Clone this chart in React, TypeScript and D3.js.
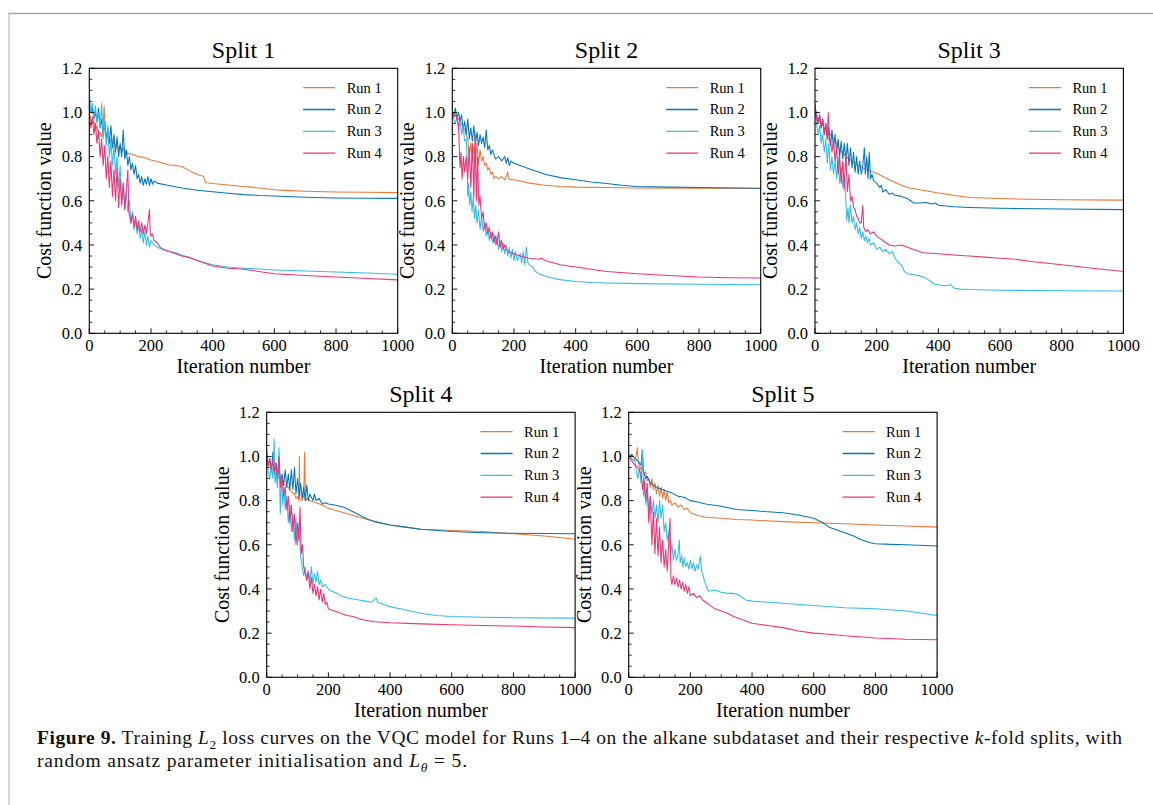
import React from 'react';
import * as d3 from 'd3';

type Pt = [number, number];

// ---------- data (iteration, cost) ----------
const split1Run1: Pt[] = [[0,1.0],[5,0.97],[10,0.95],[15,0.96],[20,0.92],[25,0.94],[30,0.9],[35,0.91],[40,0.89],[45,0.93],[48,1.03],[52,0.9],[55,0.88],[60,0.89],[65,0.86],[70,0.88],[75,0.85],[80,0.87],[85,0.84],[90,0.86],[95,0.83],[100,0.85],[105,0.82],[110,0.84],[115,0.81],[120,0.83],[125,0.81],[130,0.815],[140,0.81],[150,0.805],[160,0.8],[170,0.798],[180,0.795],[200,0.785],[220,0.778],[240,0.77],[260,0.762],[280,0.76],[300,0.755],[320,0.74],[340,0.725],[360,0.715],[370,0.712],[375,0.69],[380,0.682],[400,0.678],[450,0.672],[500,0.665],[520,0.663],[550,0.658],[600,0.65],[650,0.646],[700,0.643],[800,0.64],[900,0.639],[1000,0.637]];
const split1Run2: Pt[] = [[0,1.05],[5,1.0],[10,1.02],[15,0.97],[20,1.0],[25,0.96],[30,1.02],[35,0.93],[40,0.97],[45,0.9],[50,0.96],[55,0.88],[60,0.93],[65,0.86],[70,0.94],[75,0.84],[80,0.9],[85,0.82],[90,0.89],[95,0.8],[100,0.86],[105,0.8],[110,0.92],[115,0.79],[120,0.83],[125,0.76],[130,0.8],[135,0.74],[140,0.77],[145,0.72],[150,0.76],[155,0.7],[160,0.72],[165,0.68],[170,0.71],[175,0.67],[180,0.7],[185,0.675],[190,0.71],[195,0.67],[200,0.7],[205,0.675],[210,0.69],[220,0.68],[250,0.672],[300,0.658],[350,0.648],[400,0.641],[450,0.634],[500,0.628],[550,0.624],[600,0.622],[700,0.616],[800,0.613],[900,0.612],[1000,0.611]];
const split1Run3: Pt[] = [[0,1.09],[5,1.0],[10,1.04],[15,0.97],[20,1.03],[25,0.95],[30,1.0],[35,0.93],[40,1.04],[45,0.88],[50,0.96],[55,0.85],[60,0.94],[65,0.8],[70,0.87],[75,0.76],[80,0.85],[85,0.72],[90,0.8],[95,0.66],[100,0.76],[105,0.6],[110,0.68],[115,0.56],[120,0.64],[125,0.55],[130,0.6],[135,0.5],[140,0.55],[145,0.47],[150,0.52],[155,0.45],[160,0.49],[165,0.43],[170,0.47],[175,0.41],[180,0.46],[185,0.4],[190,0.44],[195,0.39],[200,0.42],[210,0.4],[220,0.39],[240,0.38],[260,0.37],[280,0.365],[300,0.355],[350,0.33],[400,0.31],[450,0.3],[500,0.295],[600,0.287],[700,0.282],[800,0.278],[900,0.273],[1000,0.267]];
const split1Run4: Pt[] = [[0,1.0],[5,0.93],[10,0.98],[15,0.9],[20,0.95],[25,0.86],[30,0.92],[35,0.8],[40,0.88],[45,0.76],[50,0.85],[55,0.7],[60,0.8],[65,0.66],[70,0.78],[75,0.62],[80,0.74],[85,0.6],[90,0.75],[95,0.57],[100,0.7],[105,0.58],[110,0.68],[115,0.56],[120,0.65],[125,0.74],[128,0.55],[135,0.5],[140,0.54],[145,0.48],[150,0.53],[155,0.47],[160,0.51],[165,0.46],[170,0.5],[175,0.45],[180,0.49],[185,0.45],[190,0.5],[195,0.56],[198,0.44],[205,0.45],[210,0.42],[220,0.41],[230,0.39],[240,0.38],[260,0.37],[280,0.36],[300,0.35],[320,0.345],[350,0.33],[400,0.305],[450,0.295],[500,0.29],[550,0.28],[600,0.27],[700,0.262],[800,0.255],[900,0.248],[1000,0.242]];

const split2Run1: Pt[] = [[0,1.0],[10,0.99],[20,0.97],[30,0.95],[40,0.92],[50,0.88],[55,0.8],[60,0.86],[65,0.78],[70,0.85],[75,0.77],[80,0.86],[85,0.76],[90,0.83],[95,0.78],[100,0.8],[105,0.76],[110,0.77],[115,0.74],[120,0.75],[125,0.72],[130,0.73],[135,0.7],[140,0.71],[150,0.7],[160,0.71],[170,0.695],[180,0.73],[182,0.7],[190,0.695],[200,0.695],[220,0.69],[250,0.68],[300,0.67],[350,0.665],[400,0.662],[500,0.66],[600,0.658],[800,0.657],[1000,0.656]];
const split2Run2: Pt[] = [[0,1.0],[5,0.99],[10,1.02],[15,0.97],[20,1.0],[25,0.96],[30,0.99],[35,0.92],[40,0.96],[45,0.9],[50,0.97],[55,0.88],[60,0.93],[65,0.87],[70,0.94],[75,0.86],[80,0.91],[85,0.85],[90,0.9],[95,0.86],[100,0.89],[105,0.84],[110,0.92],[115,0.83],[120,0.85],[125,0.81],[130,0.83],[140,0.79],[150,0.8],[160,0.78],[170,0.8],[175,0.77],[180,0.795],[185,0.76],[190,0.78],[200,0.77],[210,0.765],[220,0.76],[240,0.75],[260,0.74],[280,0.73],[300,0.72],[350,0.705],[400,0.695],[450,0.685],[500,0.678],[550,0.67],[600,0.665],[700,0.662],[800,0.66],[1000,0.657]];
const split2Run3: Pt[] = [[0,1.0],[5,0.97],[10,0.95],[15,0.98],[20,0.92],[25,0.96],[30,0.9],[35,0.94],[40,0.87],[45,0.88],[48,0.8],[50,0.62],[53,0.68],[56,0.58],[60,0.64],[64,0.55],[68,0.62],[72,0.52],[76,0.58],[80,0.5],[85,0.56],[90,0.47],[95,0.53],[100,0.46],[105,0.5],[110,0.44],[115,0.48],[120,0.42],[125,0.46],[130,0.41],[135,0.45],[140,0.4],[145,0.44],[150,0.38],[155,0.42],[160,0.37],[165,0.41],[170,0.36],[175,0.4],[180,0.35],[185,0.39],[190,0.34],[195,0.38],[200,0.33],[205,0.37],[210,0.33],[220,0.36],[225,0.32],[230,0.37],[235,0.31],[240,0.39],[245,0.32],[250,0.31],[260,0.3],[270,0.28],[280,0.27],[290,0.265],[300,0.26],[320,0.252],[350,0.243],[400,0.235],[450,0.23],[500,0.228],[600,0.225],[800,0.222],[1000,0.22]];
const split2Run4: Pt[] = [[0,1.0],[5,0.98],[10,0.99],[15,0.97],[20,0.95],[25,0.75],[28,0.82],[32,0.7],[36,0.8],[40,0.73],[45,0.8],[50,0.7],[55,0.84],[60,0.66],[65,0.86],[70,0.62],[74,0.9],[78,0.6],[82,0.8],[86,0.58],[90,0.62],[95,0.52],[100,0.55],[105,0.47],[110,0.5],[115,0.45],[120,0.48],[125,0.43],[130,0.46],[135,0.41],[140,0.44],[145,0.4],[150,0.46],[155,0.39],[160,0.42],[165,0.38],[170,0.4],[180,0.37],[190,0.365],[200,0.36],[220,0.35],[250,0.34],[280,0.335],[290,0.34],[300,0.33],[350,0.31],[400,0.3],[450,0.29],[500,0.28],[600,0.27],[700,0.262],[800,0.255],[900,0.252],[1000,0.25]];

const split3Run1: Pt[] = [[0,1.02],[10,0.97],[20,0.95],[30,0.93],[40,0.92],[50,0.9],[60,0.88],[70,0.86],[80,0.83],[90,0.82],[100,0.8],[120,0.78],[140,0.76],[160,0.745],[180,0.735],[200,0.725],[220,0.71],[250,0.69],[280,0.67],[300,0.66],[350,0.648],[400,0.635],[450,0.625],[500,0.615],[600,0.61],[700,0.607],[800,0.605],[1000,0.603]];
const split3Run2: Pt[] = [[0,1.03],[5,0.98],[10,0.95],[15,0.99],[20,0.93],[25,0.97],[30,0.9],[35,0.95],[40,0.88],[45,0.93],[50,0.85],[55,0.92],[60,0.84],[65,0.9],[70,0.82],[75,0.88],[80,0.8],[85,0.87],[90,0.79],[95,0.86],[100,0.78],[105,0.86],[110,0.76],[115,0.84],[120,0.75],[125,0.82],[130,0.73],[135,0.8],[140,0.72],[145,0.78],[150,0.72],[155,0.76],[160,0.84],[163,0.72],[168,0.8],[172,0.7],[176,0.82],[180,0.7],[185,0.72],[190,0.69],[200,0.68],[210,0.66],[215,0.67],[220,0.64],[230,0.65],[240,0.63],[250,0.635],[260,0.625],[280,0.62],[300,0.61],[310,0.6],[320,0.59],[340,0.59],[360,0.592],[380,0.585],[390,0.59],[400,0.58],[450,0.573],[500,0.57],[600,0.566],[800,0.563],[1000,0.56]];
const split3Run3: Pt[] = [[0,1.0],[5,0.95],[10,0.9],[15,0.94],[20,0.86],[25,0.9],[30,0.82],[35,0.88],[40,0.77],[45,0.86],[50,0.74],[55,0.8],[60,0.72],[65,0.78],[70,0.7],[75,0.8],[80,0.68],[85,0.75],[90,0.66],[95,0.72],[100,0.6],[103,0.51],[107,0.57],[110,0.5],[115,0.58],[120,0.5],[125,0.53],[130,0.47],[135,0.5],[140,0.45],[145,0.48],[150,0.43],[155,0.46],[160,0.42],[165,0.44],[170,0.41],[175,0.43],[180,0.4],[190,0.41],[200,0.38],[210,0.39],[220,0.37],[230,0.38],[240,0.36],[250,0.37],[260,0.34],[270,0.32],[280,0.31],[290,0.28],[300,0.27],[320,0.265],[340,0.26],[360,0.25],[380,0.23],[390,0.22],[400,0.22],[420,0.215],[440,0.22],[450,0.205],[470,0.2],[500,0.198],[600,0.195],[800,0.193],[1000,0.192]];
const split3Run4: Pt[] = [[0,1.04],[5,0.97],[10,0.95],[15,0.99],[20,0.93],[25,0.97],[30,0.9],[35,0.95],[40,0.88],[43,1.0],[46,0.87],[50,0.88],[55,0.82],[60,0.87],[65,0.78],[70,0.84],[75,0.72],[80,0.8],[85,0.68],[90,0.78],[95,0.65],[100,0.82],[105,0.64],[110,0.72],[115,0.6],[120,0.62],[125,0.57],[130,0.56],[135,0.53],[140,0.52],[145,0.5],[150,0.5],[155,0.58],[158,0.48],[165,0.46],[170,0.47],[180,0.45],[190,0.46],[200,0.44],[210,0.43],[220,0.42],[240,0.4],[260,0.395],[280,0.4],[300,0.39],[320,0.38],[350,0.365],[400,0.36],[450,0.355],[500,0.35],[550,0.345],[600,0.34],[650,0.335],[700,0.325],[800,0.31],[900,0.295],[1000,0.28]];

const split4Run1: Pt[] = [[0,0.98],[10,0.96],[20,0.94],[30,0.92],[40,0.9],[50,0.88],[60,0.87],[70,0.86],[80,0.84],[90,0.83],[95,0.81],[100,0.82],[104,0.8],[106,1.0],[108,0.81],[115,0.8],[120,0.82],[123,1.02],[126,0.8],[130,0.81],[140,0.8],[160,0.79],[180,0.78],[200,0.765],[250,0.745],[300,0.725],[350,0.705],[400,0.69],[450,0.68],[500,0.67],[600,0.665],[700,0.66],[800,0.65],[900,0.64],[1000,0.625]];
const split4Run2: Pt[] = [[0,1.0],[5,0.96],[10,0.99],[15,0.93],[20,1.02],[25,0.92],[30,0.97],[35,0.9],[40,0.95],[45,0.88],[50,0.92],[55,0.87],[60,0.94],[65,0.86],[70,0.92],[75,0.85],[80,0.94],[85,0.85],[90,0.95],[95,0.83],[100,0.9],[105,0.82],[110,0.88],[115,0.81],[120,0.86],[125,0.8],[130,0.87],[135,0.8],[140,0.83],[150,0.8],[155,0.83],[160,0.8],[170,0.81],[180,0.785],[190,0.79],[200,0.785],[220,0.78],[250,0.77],[280,0.75],[300,0.735],[330,0.715],[350,0.705],[400,0.69],[450,0.68],[500,0.67],[600,0.66],[700,0.655],[800,0.652],[1000,0.65]];
const split4Run3: Pt[] = [[0,1.0],[5,0.93],[10,0.9],[15,0.95],[20,0.9],[24,1.08],[27,0.88],[30,0.92],[35,0.86],[40,1.04],[44,0.74],[48,0.9],[52,0.78],[56,0.86],[60,0.76],[65,0.82],[70,0.7],[75,0.78],[80,0.66],[85,0.74],[90,0.62],[95,0.72],[100,0.6],[105,0.7],[110,0.55],[115,0.5],[120,0.46],[125,0.5],[130,0.44],[135,0.48],[140,0.43],[145,0.5],[150,0.42],[155,0.47],[160,0.43],[165,0.48],[170,0.42],[175,0.44],[180,0.41],[190,0.42],[200,0.4],[210,0.39],[220,0.385],[230,0.38],[240,0.37],[250,0.365],[260,0.36],[280,0.355],[300,0.35],[320,0.345],[340,0.34],[355,0.36],[360,0.34],[380,0.33],[400,0.32],[450,0.305],[500,0.29],[550,0.28],[600,0.275],[700,0.272],[800,0.27],[1000,0.268]];
const split4Run4: Pt[] = [[0,1.03],[5,0.96],[10,0.99],[15,0.94],[20,0.98],[25,0.93],[30,0.97],[35,0.91],[40,1.0],[45,0.86],[50,0.9],[55,0.82],[60,0.86],[65,0.76],[70,0.82],[75,0.7],[80,0.78],[85,0.66],[90,0.74],[95,0.6],[100,0.7],[104,0.62],[108,0.77],[112,0.56],[116,0.6],[120,0.5],[125,0.47],[130,0.44],[135,0.48],[140,0.4],[145,0.45],[150,0.38],[155,0.42],[160,0.37],[165,0.41],[170,0.35],[175,0.4],[180,0.34],[185,0.38],[190,0.33],[195,0.34],[200,0.31],[210,0.305],[220,0.3],[240,0.29],[260,0.28],[280,0.275],[300,0.265],[320,0.258],[350,0.252],[400,0.247],[500,0.242],[600,0.238],[700,0.235],[800,0.232],[900,0.228],[1000,0.225]];

const split5Run1: Pt[] = [[0,1.0],[10,0.99],[20,0.98],[25,1.01],[28,1.04],[31,0.97],[35,0.96],[40,0.94],[45,0.95],[50,0.92],[55,0.93],[60,0.89],[65,0.9],[70,0.86],[75,0.9],[80,0.85],[85,0.88],[90,0.83],[95,0.87],[100,0.82],[105,0.86],[110,0.81],[115,0.85],[120,0.8],[125,0.84],[130,0.79],[135,0.8],[140,0.78],[150,0.79],[160,0.77],[170,0.78],[180,0.76],[190,0.765],[200,0.745],[220,0.735],[250,0.725],[300,0.72],[350,0.715],[400,0.712],[500,0.705],[600,0.7],[700,0.695],[800,0.69],[900,0.685],[1000,0.68]];
const split5Run2: Pt[] = [[0,1.0],[10,1.01],[20,0.99],[30,0.98],[40,0.96],[44,1.03],[48,0.93],[55,0.9],[60,0.91],[70,0.88],[80,0.87],[90,0.86],[100,0.855],[110,0.85],[120,0.845],[140,0.835],[160,0.82],[180,0.815],[200,0.8],[220,0.795],[250,0.785],[300,0.775],[350,0.76],[400,0.755],[450,0.75],[500,0.745],[550,0.735],[600,0.72],[630,0.7],[650,0.68],[680,0.665],[700,0.655],[730,0.64],[750,0.625],[780,0.61],[800,0.605],[850,0.602],[900,0.6],[1000,0.595]];
const split5Run3: Pt[] = [[0,1.0],[10,0.99],[20,0.98],[25,0.93],[30,0.9],[35,0.95],[40,0.88],[45,1.03],[48,0.82],[52,0.87],[56,0.78],[60,0.84],[65,0.76],[70,0.82],[75,0.74],[80,0.8],[85,0.72],[90,0.78],[95,0.7],[100,0.8],[105,0.72],[110,0.78],[115,0.66],[120,0.7],[125,0.62],[130,0.66],[135,0.56],[140,0.6],[145,0.53],[150,0.58],[155,0.53],[160,0.56],[164,0.62],[167,0.52],[172,0.55],[176,0.5],[180,0.54],[185,0.5],[190,0.52],[195,0.49],[200,0.53],[205,0.49],[210,0.52],[215,0.48],[220,0.51],[225,0.49],[230,0.53],[233,0.55],[236,0.48],[240,0.47],[245,0.44],[250,0.42],[255,0.4],[260,0.39],[280,0.395],[300,0.385],[320,0.38],[340,0.38],[360,0.37],[380,0.35],[400,0.345],[500,0.335],[600,0.325],[700,0.315],[800,0.31],[900,0.3],[1000,0.28]];
const split5Run4: Pt[] = [[0,1.0],[10,0.98],[20,0.96],[30,0.95],[40,0.92],[45,0.85],[50,0.9],[55,0.8],[60,0.88],[65,0.7],[70,0.82],[75,0.6],[80,0.75],[85,0.56],[90,0.72],[95,0.55],[100,0.68],[105,0.52],[110,0.62],[115,0.5],[120,0.58],[125,0.48],[130,0.62],[134,0.72],[137,0.45],[140,0.42],[145,0.46],[150,0.42],[155,0.45],[160,0.41],[165,0.44],[170,0.4],[175,0.43],[180,0.39],[185,0.42],[190,0.38],[195,0.41],[200,0.37],[210,0.38],[220,0.36],[230,0.37],[240,0.35],[250,0.34],[260,0.33],[270,0.32],[280,0.31],[300,0.3],[320,0.29],[340,0.275],[360,0.265],[400,0.245],[450,0.235],[500,0.225],[550,0.21],[600,0.2],[650,0.195],[700,0.188],[800,0.178],[900,0.172],[1000,0.17]];

const runLabels = ['Run 1', 'Run 2', 'Run 3', 'Run 4'];
const runColors = ['#EE7733', '#0077BB', '#33BBEE', '#EE3377'];
const splitTitles = ['Split 1', 'Split 2', 'Split 3', 'Split 4', 'Split 5'];
const xTickValues = [0, 200, 400, 600, 800, 1000];
const yTickValues = [0, 0.2, 0.4, 0.6, 0.8, 1.0, 1.2];

const splitRuns: Pt[][][] = [
  [split1Run1, split1Run2, split1Run3, split1Run4],
  [split2Run1, split2Run2, split2Run3, split2Run4],
  [split3Run1, split3Run2, split3Run3, split3Run4],
  [split4Run1, split4Run2, split4Run3, split4Run4],
  [split5Run1, split5Run2, split5Run3, split5Run4],
];

// ---------- layout ----------
const FONT = '"Liberation Serif", "Times New Roman", serif';
const PW = 308.4;
const PH = 265;
const panelOrigins = [
  { x: 89.3, y: 68.3 },
  { x: 452.3, y: 68.3 },
  { x: 815, y: 68.3 },
  { x: 266.7, y: 412.3 },
  { x: 628.7, y: 412.3 },
];

function Panel({ idx }: { idx: number }) {
  const { x, y } = panelOrigins[idx];
  const xs = d3.scaleLinear().domain([0, 1000]).range([0, PW]);
  const ys = d3.scaleLinear().domain([0, 1.2]).range([PH, 0]);
  const line = d3.line<Pt>().x((d) => xs(d[0])).y((d) => ys(d[1]));
  const xMinor = d3.range(0, 1001, 50).filter((v) => v % 200 !== 0);
  const yMinor = d3.range(0, 25).map((i) => i * 0.05).filter((_, i) => i % 4 !== 0);
  const clipId = `clip-${idx}`;
  return (
    <g transform={`translate(${x},${y})`}>
      <defs>
        <clipPath id={clipId}>
          <rect x={0} y={0} width={PW} height={PH} />
        </clipPath>
      </defs>
      <g clipPath={`url(#${clipId})`}>
        {splitRuns[idx].map((run, i) => (
          <path key={i} d={line(run) || ''} fill="none" stroke={runColors[i]} strokeWidth={1.05} strokeLinejoin="round" />
        ))}
      </g>
      {xTickValues.map((v) => (
        <line key={'xt' + v} x1={xs(v)} x2={xs(v)} y1={PH} y2={PH - 5} stroke="#000" strokeWidth={0.9} />
      ))}
      {xMinor.map((v) => (
        <line key={'xm' + v} x1={xs(v)} x2={xs(v)} y1={PH} y2={PH - 3} stroke="#000" strokeWidth={0.8} />
      ))}
      {yTickValues.map((v) => (
        <line key={'yt' + v} x1={0} x2={5} y1={ys(v)} y2={ys(v)} stroke="#000" strokeWidth={0.9} />
      ))}
      {yMinor.map((v) => (
        <line key={'ym' + v} x1={0} x2={3} y1={ys(v)} y2={ys(v)} stroke="#000" strokeWidth={0.8} />
      ))}
      <rect x={0} y={0} width={PW} height={PH} fill="none" stroke="#000" strokeWidth={1.1} />
      {xTickValues.map((v) => (
        <text key={'xl' + v} x={xs(v)} y={PH + 18} textAnchor="middle" fontSize={16.5} fontFamily={FONT} fill="#000">
          {v}
        </text>
      ))}
      {yTickValues.map((v) => (
        <text key={'yl' + v} x={-7} y={ys(v) + 5.8} textAnchor="end" fontSize={16.5} fontFamily={FONT} fill="#000">
          {v.toFixed(1)}
        </text>
      ))}
      <text x={PW / 2} y={PH + 40} textAnchor="middle" fontSize={20} fontFamily={FONT} fill="#000">
        Iteration number
      </text>
      <text transform={`translate(${-38},${PH / 2}) rotate(-90)`} textAnchor="middle" fontSize={20} fontFamily={FONT} fill="#000">
        Cost function value
      </text>
      <text x={PW / 2} y={-10.5} textAnchor="middle" fontSize={24} fontFamily={FONT} fill="#000">
        {splitTitles[idx]}
      </text>
      {runLabels.map((lab, i) => {
        const ry = 19.4 + i * 21.8;
        return (
          <g key={lab}>
            <line x1={PW - 94.5} x2={PW - 62.5} y1={ry} y2={ry} stroke={runColors[i]} strokeWidth={1.3} />
            <text x={PW - 51} y={ry + 5} fontSize={14.5} fontFamily={FONT} fill="#000">
              {lab}
            </text>
          </g>
        );
      })}
    </g>
  );
}

export default function App() {
  return (
    <svg
      width={1153}
      height={805}
      style={{ position: 'absolute', left: 0, top: 0, background: '#fff' }}
      xmlns="http://www.w3.org/2000/svg"
    >
      <rect x={0} y={0} width={1153} height={805} fill="#fff" />
      <line x1={8} x2={1153} y1={13.5} y2={13.5} stroke="#a8a8a8" strokeWidth={1.5} />
      <line x1={9} x2={9} y1={13} y2={805} stroke="#c8c8c8" strokeWidth={1.5} />
      {panelOrigins.map((_, i) => (
        <Panel key={i} idx={i} />
      ))}
      <text x={37} y={744} fontSize={19.5} fontFamily={FONT} fill="#111" textLength={1085} lengthAdjust="spacing">
        <tspan fontWeight="bold">Figure 9.</tspan>
        <tspan> Training </tspan>
        <tspan fontStyle="italic">L</tspan>
        <tspan fontSize={13.5} dy={4.5}>2</tspan>
        <tspan dy={-4.5}> loss curves on the VQC model for Runs 1–4 on the alkane subdataset and their respective </tspan>
        <tspan fontStyle="italic">k</tspan>
        <tspan>-fold splits, with</tspan>
      </text>
      <text x={37} y={767} fontSize={19.5} fontFamily={FONT} fill="#111" textLength={430} lengthAdjust="spacing">
        <tspan>random ansatz parameter initialisation and </tspan>
        <tspan fontStyle="italic">L</tspan>
        <tspan fontSize={13.5} fontStyle="italic" dy={4.5}>θ</tspan>
        <tspan dy={-4.5}> = 5.</tspan>
      </text>
    </svg>
  );
}
